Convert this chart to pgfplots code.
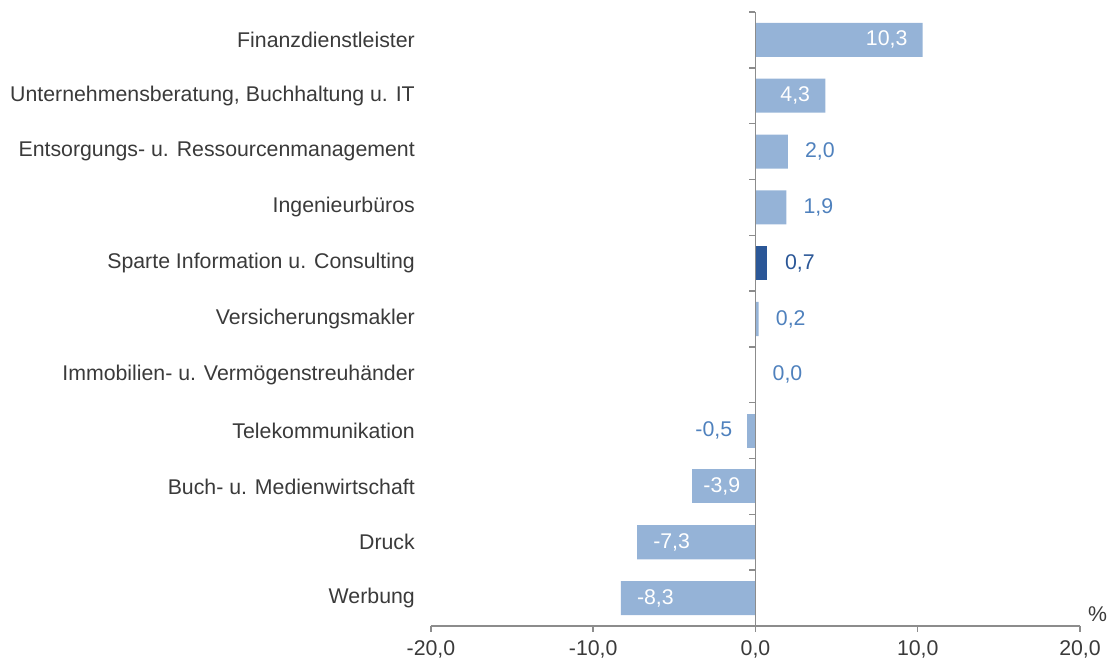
\documentclass[border=0pt]{standalone}
\usepackage{fontspec}
\setmainfont{Liberation Sans}
\usepackage{pgfplots}
\pgfplotsset{compat=1.18}
\definecolor{barlight}{HTML}{95B3D7}
\definecolor{bardark}{HTML}{2B5797}
\definecolor{lbllight}{HTML}{4F81BD}
\definecolor{axgray}{HTML}{8C8C8C}
\definecolor{txt}{HTML}{3A3A3A}
\begin{document}
\begin{tikzpicture}
\begin{axis}[
  at={(0,0)}, anchor=south west,
  scale only axis, width=649pt, height=614pt,
  xbar, bar shift=0pt, bar width=0.61,
  xmin=-20, xmax=20, ymin=-0.5, ymax=10.5,
  clip=false,
  axis lines*=left,
  y axis line style={draw=none},
  x axis line style={axgray, line width=1.5pt},
  xtick={-20,-10,0,10,20},
  ytick={0,...,10},
  yticklabels={Werbung, Druck, Buch- u. Medienwirtschaft, Telekommunikation, Immobilien- u. Vermögenstreuhänder, Versicherungsmakler, Sparte Information u. Consulting, Ingenieurbüros, Entsorgungs- u. Ressourcenmanagement, {Unternehmensberatung, Buchhaltung u. IT}, Finanzdienstleister},
  ytick style={draw=none},
  xtick style={axgray, line width=1.5pt},
  tick align=outside,
  major tick length=6pt,
  font=\fontsize{21.3}{25}\selectfont,
  tick label style={font=\fontsize{21.3}{25}\selectfont, text=txt},
  /pgf/number format/.cd, fixed, fixed zerofill, precision=1, use comma, assume math mode=true, /pgfplots/.cd,
  yticklabel style={inner sep=0pt, xshift=-10pt},
  xticklabel style={inner sep=0pt, yshift=-8pt},
  nodes near coords,
  nodes near coords style={font=\fontsize{21.3}{25}\selectfont, inner sep=0pt},
]
\addplot[fill=barlight, draw=none, nodes near coords style={text=white, anchor=east, xshift=-15pt}] coordinates {(10.3,10) (4.3,9)};
\addplot[fill=barlight, draw=none, nodes near coords style={text=white, anchor=west, xshift=11pt}] coordinates {(-3.9,2)};
\addplot[fill=barlight, draw=none, nodes near coords style={text=white, anchor=west, xshift=16pt}] coordinates {(-7.3,1) (-8.3,0)};
\addplot[fill=barlight, draw=none, nodes near coords style={text=lbllight, anchor=west, xshift=17pt}] coordinates {(2.0,8) (1.9,7) (0.2,5) (0.0,4)};
\addplot[fill=barlight, draw=none, nodes near coords style={text=lbllight, anchor=east, xshift=-15pt}] coordinates {(-0.5,3)};
\addplot[fill=bardark, draw=none, nodes near coords style={text=bardark, anchor=west, xshift=18pt}] coordinates {(0.7,6)};
\draw[axgray, line width=1.5pt] (axis cs:0,-0.5) -- (axis cs:0,10.5);
\pgfplotsinvokeforeach{-0.5,0.5,...,10.5}{\draw[axgray, line width=1.5pt] (axis cs:0,#1) -- ++(-6pt,0pt);}
\node[anchor=south west, inner sep=0pt, text=txt, font=\fontsize{21.3}{25}\selectfont] at (axis cs:20,-0.5) [xshift=8pt, yshift=4pt] {\%};
\end{axis}
\pgfresetboundingbox
\useasboundingbox (-431pt,-34pt) rectangle (678pt,626pt);
\end{tikzpicture}
\end{document}
